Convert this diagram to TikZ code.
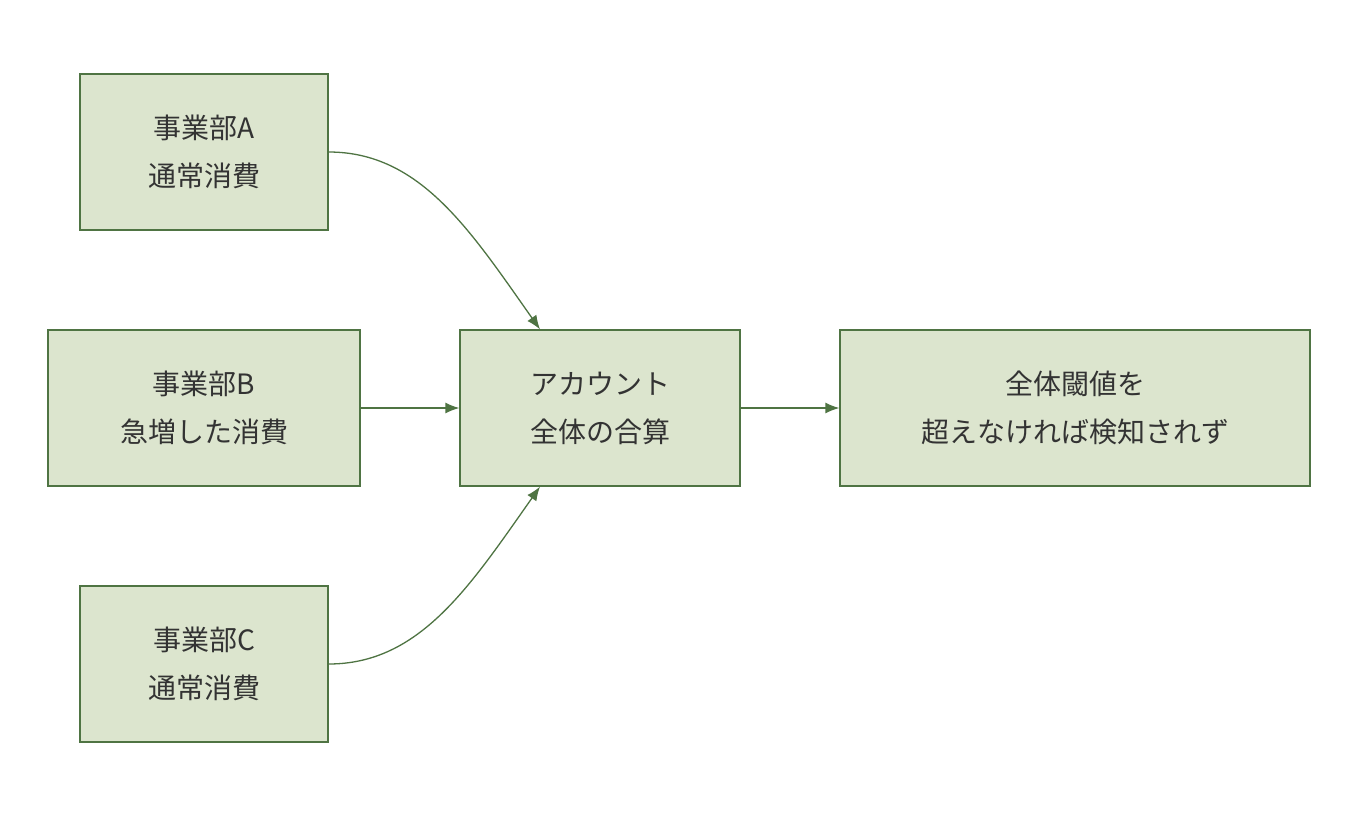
\documentclass[tikz,border=0pt]{standalone}
\usepackage{fontspec}
\newfontfamily\cjk{Noto Sans CJK JP}
\usetikzlibrary{arrows.meta}
\definecolor{bfill}{HTML}{DCE5CE}
\definecolor{bline}{HTML}{4F7443}
\definecolor{txt}{HTML}{333333}
\begin{document}
\begin{tikzpicture}[x=1pt,y=-1pt,
 box/.style={draw=bline,fill=bfill,line width=1.3pt,minimum height=156pt,align=center,text=txt,font=\cjk\fontsize{28}{48}\selectfont,inner sep=0pt},
 arr/.style={draw=bline,line width=1.3pt,-{Latex[length=14pt,width=11pt]}}]
\useasboundingbox[fill=white] (0,0) rectangle (1358,820);
\node[box,minimum width=248pt] (a) at (204,152) {事業部A\\通常消費};
\node[box,minimum width=312pt] (b) at (204,408) {事業部B\\急増した消費};
\node[box,minimum width=248pt] (c) at (204,664) {事業部C\\通常消費};
\node[box,minimum width=280pt] (s) at (600,408) {アカウント\\全体の合算};
\node[box,minimum width=470pt] (o) at (1075,408) {全体閾値を\\超えなければ検知されず};
\draw[arr] (a.east) .. controls (420,152) and (470,230) .. ([xshift=-60pt]s.north);
\draw[arr] (c.east) .. controls (420,664) and (470,586) .. ([xshift=-60pt]s.south);
\draw[arr] (b.east) -- (s.west);
\draw[arr] (s.east) -- (o.west);
\end{tikzpicture}
\end{document}
